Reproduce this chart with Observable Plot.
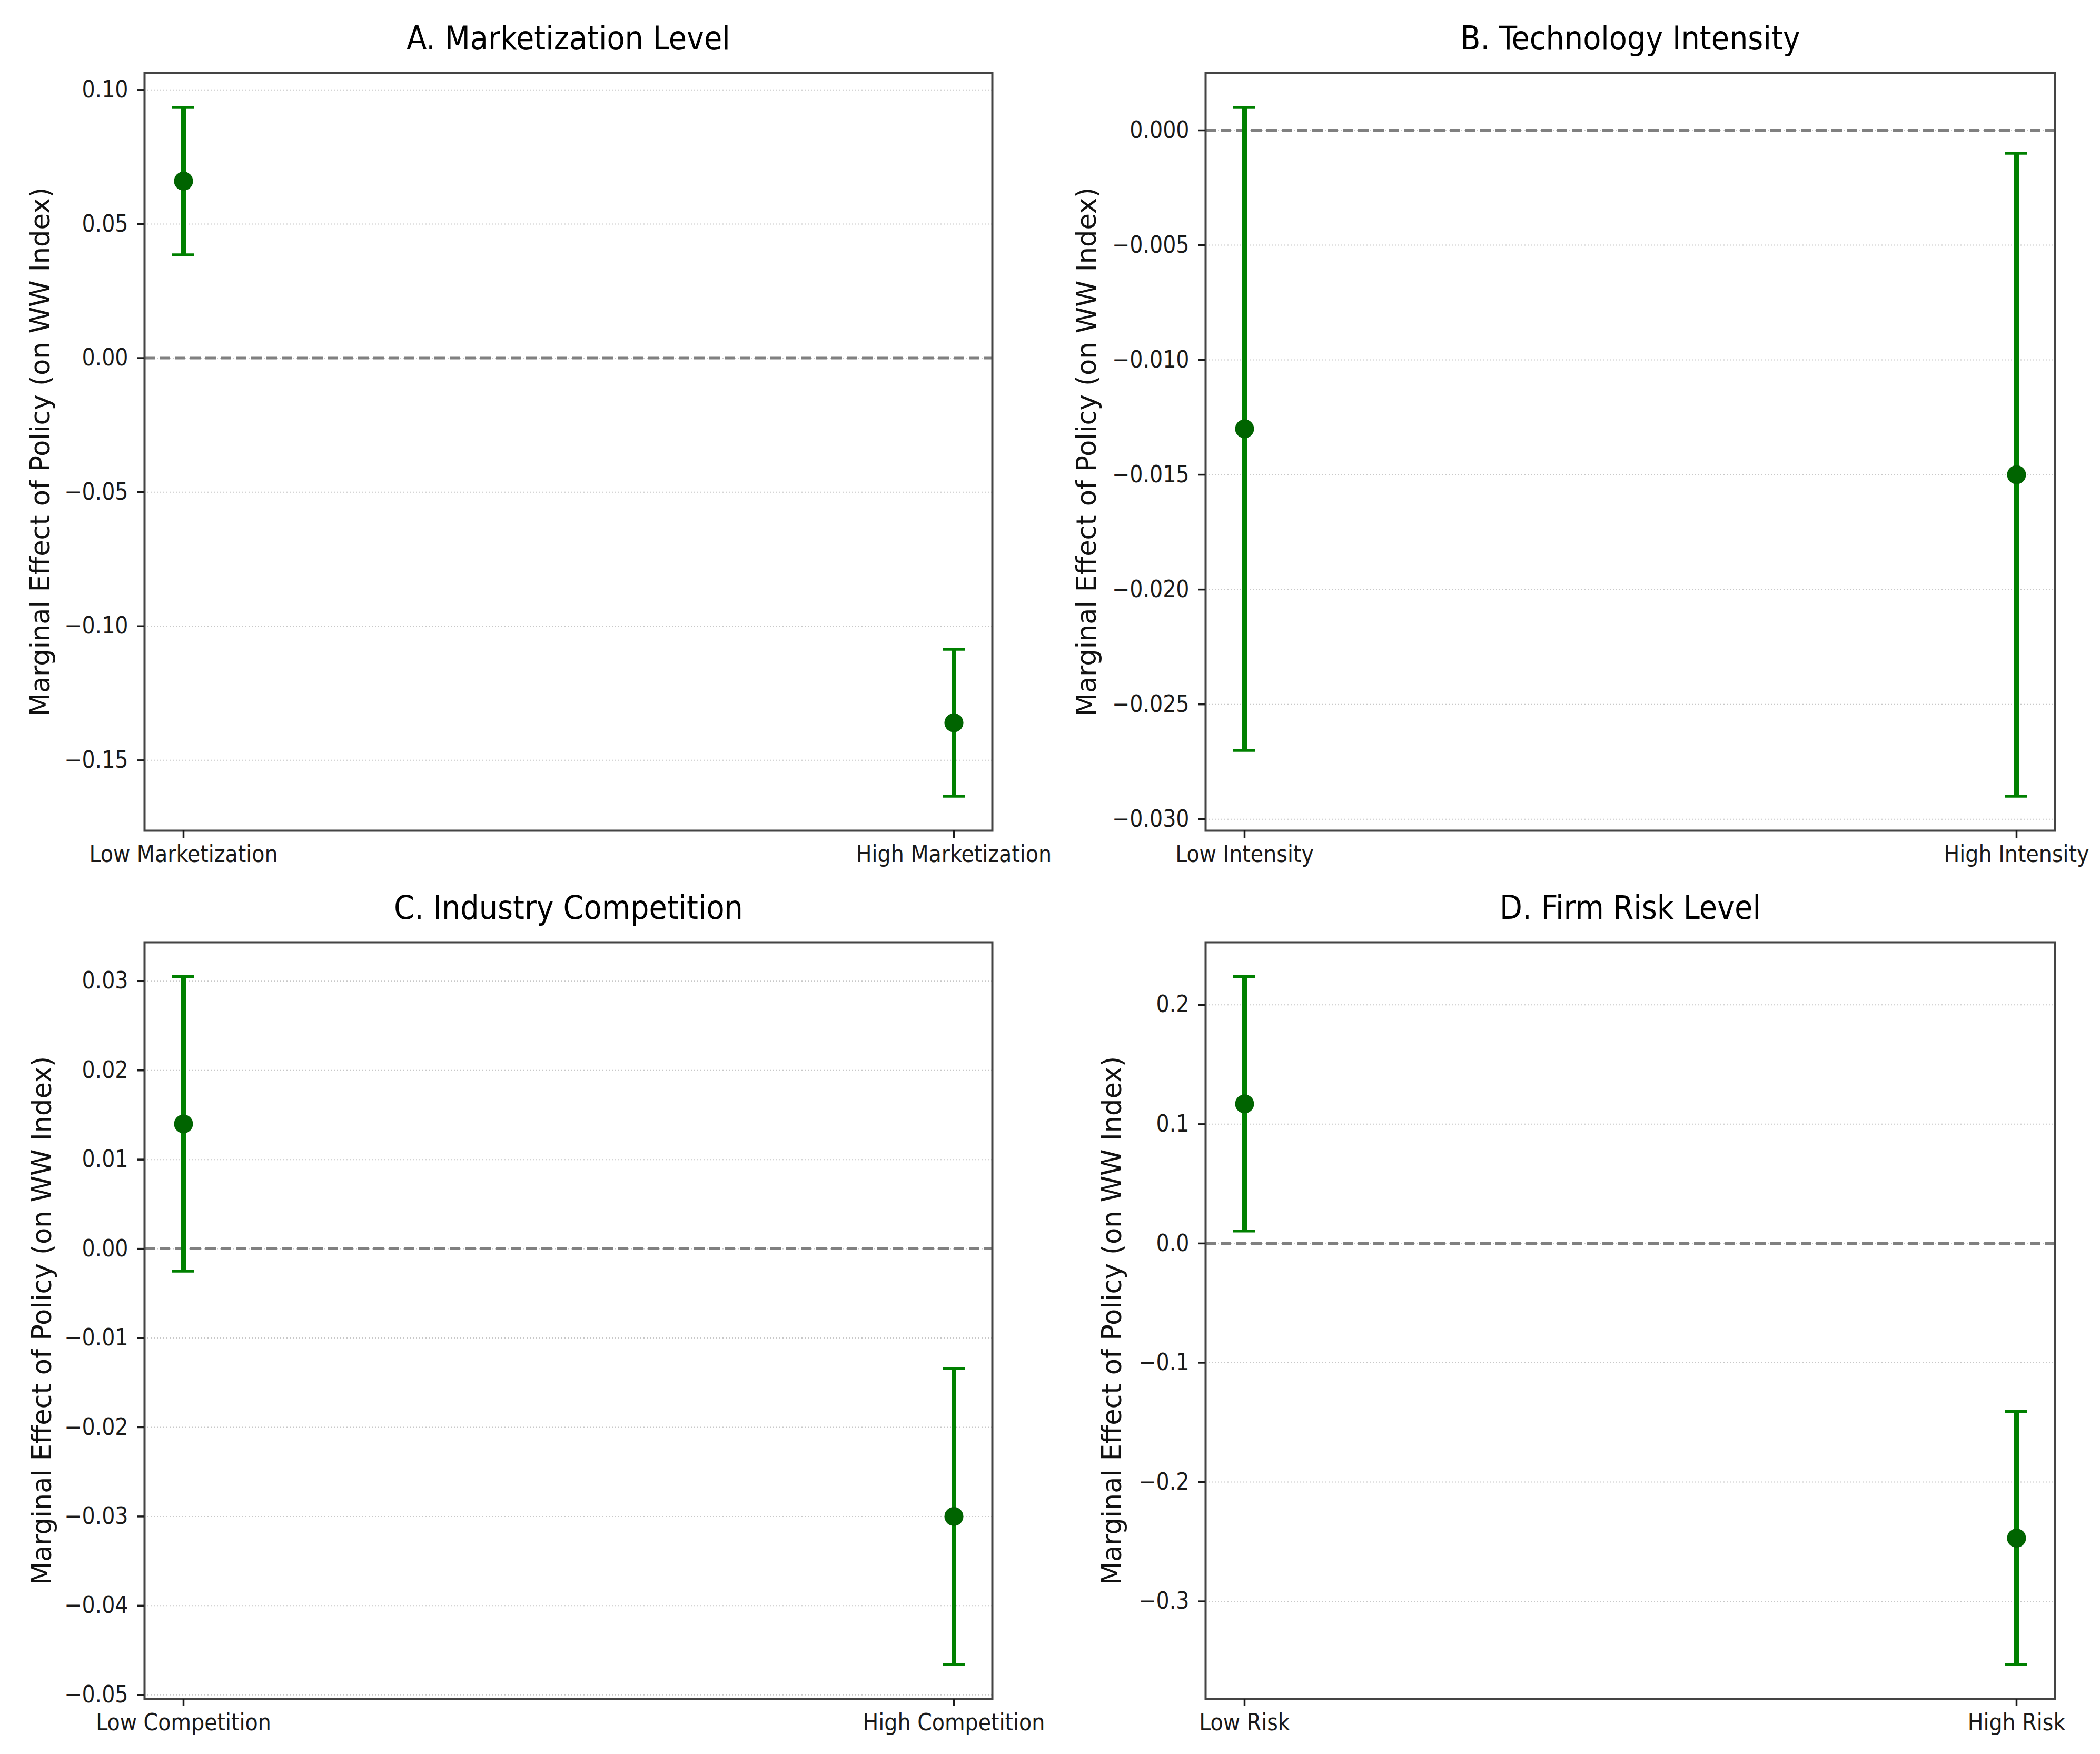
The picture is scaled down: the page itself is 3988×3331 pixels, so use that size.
<!DOCTYPE html>
<html><head><meta charset="utf-8">
<script src="https://cdn.jsdelivr.net/npm/d3@7"></script>
<script src="https://cdn.jsdelivr.net/npm/@observablehq/plot@0.6"></script>
<style>
body{margin:0;background:#fff;}
#page{position:relative;width:3988px;height:3331px;background:#fff;overflow:hidden;}
.panel{position:absolute;}
</style></head><body><div id="page"></div>
<script>
// ---- data ----
const yLabel = "Marginal Effect of Policy (on WW Index)";
const titles = ["A. Marketization Level", "B. Technology Intensity", "C. Industry Competition", "D. Firm Risk Level"];

const groupsA = ["Low Marketization", "High Marketization"];
const estA = [0.066, -0.136];
const lowA = [0.0385, -0.1634];
const highA = [0.0935, -0.1086];
const ticksA = [-0.15, -0.10, -0.05, 0.00, 0.05, 0.10];

const groupsB = ["Low Intensity", "High Intensity"];
const estB = [-0.013, -0.015];
const lowB = [-0.027, -0.029];
const highB = [0.001, -0.001];
const ticksB = [-0.030, -0.025, -0.020, -0.015, -0.010, -0.005, 0.000];

const groupsC = ["Low Competition", "High Competition"];
const estC = [0.014, -0.030];
const lowC = [-0.0025, -0.0466];
const highC = [0.0305, -0.0134];
const ticksC = [-0.05, -0.04, -0.03, -0.02, -0.01, 0.00, 0.01, 0.02, 0.03];

const groupsD = ["Low Risk", "High Risk"];
const estD = [0.117, -0.247];
const lowD = [0.0104, -0.353];
const highD = [0.2236, -0.141];
const ticksD = [-0.3, -0.2, -0.1, 0.0, 0.1, 0.2];

// ---- layout ----
const FONT = "'DejaVu Sans Condensed', 'DejaVu Sans', sans-serif";
const LABEL_FONT = "'DejaVu Sans', sans-serif";
const geoms = [
  {left: 0,    top: 0,    w: 1994, h: 1700, ml: 274, mr: 110, mt: 138, mb: 123, ldx: -197},
  {left: 1994, top: 0,    w: 1994, h: 1700, ml: 295, mr: 86,  mt: 138, mb: 123, ldx: -225},
  {left: 0,    top: 1700, w: 1994, h: 1631, ml: 274, mr: 110, mt: 89,  mb: 105, ldx: -194},
  {left: 1994, top: 1700, w: 1994, h: 1631, ml: 295, mr: 86,  mt: 89,  mb: 105, ldx: -177}
];

function panel(title, groups, est, lo, hi, ticks, fmt, g) {
  const rows = groups.map((grp, i) => ({group: grp, est: est[i], lo: lo[i], hi: hi[i]}));
  const mn = d3.min(lo), mx = d3.max(hi), pad = (mx - mn) * 0.05;
  const capOpts = {x1: "group", x2: "group", stroke: "#008000", strokeWidth: 5.5, insetLeft: -21, insetRight: -21};
  const chart = Plot.plot({
    width: g.w, height: g.h,
    marginLeft: g.ml, marginRight: g.mr, marginTop: g.mt, marginBottom: g.mb,
    style: {fontFamily: FONT, fontSize: "44px", overflow: "visible", background: "transparent", color: "#1a1a1a"},
    x: {type: "point", domain: groups, padding: 0.05},
    y: {domain: [mn - pad, mx + pad]},
    marks: [
      Plot.gridY({ticks, stroke: "#c8c8c8", strokeOpacity: 1, strokeWidth: 2, strokeDasharray: "2,4"}),
      Plot.ruleY([0], {stroke: "#808080", strokeWidth: 5, strokeDasharray: "20,9"}),
      Plot.ruleX(rows, {x: "group", y1: "lo", y2: "hi", stroke: "#008000", strokeWidth: 9}),
      Plot.ruleY(rows, {y: "lo", ...capOpts}),
      Plot.ruleY(rows, {y: "hi", ...capOpts}),
      Plot.dot(rows, {x: "group", y: "est", r: 18, fill: "#006400"}),
      Plot.frame({stroke: "#444444", strokeWidth: 4}),
      Plot.axisY({ticks, tickFormat: fmt, tickSize: 14, tickPadding: 17, fontSize: 44, strokeWidth: 3.5, label: null}),
      Plot.axisX({tickSize: 14, tickPadding: 14, fontSize: 44, strokeWidth: 3.5, label: null}),
      Plot.text([yLabel], {frameAnchor: "left", textAnchor: "middle", lineAnchor: "middle", rotate: -90, dx: g.ldx, fontSize: 51, fontFamily: LABEL_FONT, fill: "#111"}),
      Plot.text([title], {frameAnchor: "top", dy: -45, lineAnchor: "bottom", fontSize: 62, fill: "#000"})
    ]
  });
  const div = document.createElement("div");
  div.className = "panel";
  div.style.left = g.left + "px";
  div.style.top = g.top + "px";
  div.style.width = g.w + "px";
  div.style.height = g.h + "px";
  div.appendChild(chart);
  document.getElementById("page").appendChild(div);
}

panel(titles[0], groupsA, estA, lowA, highA, ticksA, d3.format(".2f"), geoms[0]);
panel(titles[1], groupsB, estB, lowB, highB, ticksB, d3.format(".3f"), geoms[1]);
panel(titles[2], groupsC, estC, lowC, highC, ticksC, d3.format(".2f"), geoms[2]);
panel(titles[3], groupsD, estD, lowD, highD, ticksD, d3.format(".1f"), geoms[3]);
</script></body></html>
